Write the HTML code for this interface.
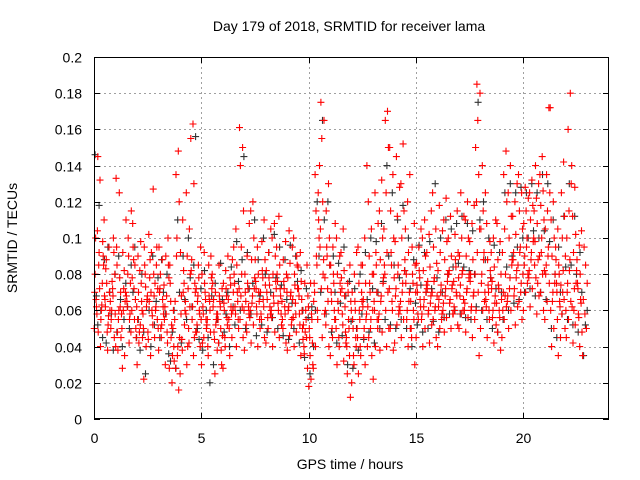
<!DOCTYPE html>
<html><head><meta charset="utf-8"><style>
html,body{margin:0;padding:0;background:#fff;}
svg{display:block;font-family:"Liberation Sans",sans-serif;}
</style></head><body>
<svg id="chart" width="640" height="480" viewBox="0 0 640 480" xmlns="http://www.w3.org/2000/svg">
<rect width="640" height="480" fill="#fff"/>
<g id="grid"></g>
<g id="black"></g>
<g id="red"></g>
<g id="axes"></g>
<text x="349" y="31" text-anchor="middle" font-size="14" fill="#000">Day 179 of 2018, SRMTID for receiver lama</text>
<text x="350" y="469" text-anchor="middle" font-size="14" fill="#000">GPS time / hours</text>
<text transform="translate(17,238) rotate(-90)" text-anchor="middle" font-size="14" fill="#000">SRMTID / TECUs</text>
</svg>
<script>
const xTicks=[0,5,10,15,20];
const yTicks=[0,0.02,0.04,0.06,0.08,0.1,0.12,0.14,0.16,0.18,0.2];
const yTickLabels=["0","0.02","0.04","0.06","0.08","0.1","0.12","0.14","0.16","0.18","0.2"];
const binWidth=0.25;
const redBins=[
[50,62,85,100,145,70,58,92,66,48,80,104],
[55,90,132,75,68,60,85,40,98,72,63,110],
[38,60,75,95,83,52,66,48,70,88,57,62],
[45,55,100,65,72,80,60,92,50,68,58,76],
[40,38,62,85,125,133,55,70,48,78,95,60],
[28,35,58,72,110,92,65,50,82,45,60,70],
[42,115,100,75,62,55,68,90,48,80,58,65],
[50,108,85,60,72,45,95,66,78,55,62,88],
[30,48,65,70,98,55,82,60,42,75,90,52],
[22,40,58,80,68,95,62,50,73,45,85,66],
[35,52,78,60,102,70,48,88,57,65,92,44],
[55,68,85,127,60,72,45,95,80,62,50,75],
[38,50,62,72,88,95,45,58,80,66,70,52],
[30,42,55,68,78,90,100,62,48,74,58,85],
[20,32,45,60,75,35,28,52,40,65,50,85],
[16,28,40,55,100,120,135,148,65,35,45,90],
[25,38,52,68,82,92,110,60,44,75,58,70],
[30,42,58,72,80,90,105,125,50,65,40,62],
[35,48,62,75,88,130,155,163,70,55,45,82],
[40,52,60,72,85,95,65,58,48,78,55,68],
[30,45,55,62,70,80,92,50,58,66,42,75],
[35,48,55,65,72,85,90,40,60,52,68,78],
[25,38,48,55,62,70,80,44,58,66,52,75],
[30,42,50,58,65,72,85,38,55,62,46,68],
[28,40,52,60,68,75,82,90,45,56,64,72],
[35,45,55,62,70,78,88,50,58,66,74,60],
[40,50,58,65,75,85,95,105,55,62,70,80],
[45,55,62,72,95,115,140,150,161,80,60,68],
[38,48,58,65,72,80,90,108,52,62,70,75],
[42,52,60,68,78,88,100,115,120,56,64,72],
[40,50,58,65,72,80,88,95,55,62,70,76],
[45,55,62,70,78,88,98,110,58,66,74,82],
[42,50,58,66,74,82,92,105,56,62,70,78],
[40,48,56,64,72,80,90,100,108,60,68,76],
[45,52,60,68,76,85,95,112,58,64,72,80],
[42,50,58,65,72,80,88,98,55,62,70,76],
[38,46,55,62,70,78,86,95,104,52,60,68],
[40,48,56,64,72,80,90,100,58,66,74,85],
[35,44,52,60,68,76,84,92,50,58,66,72],
[28,36,45,52,60,68,75,85,40,55,62,48],
[18,22,28,35,42,50,58,65,75,30,45,55],
[40,55,70,85,100,115,125,135,60,75,90,110],
[45,58,72,88,105,120,140,155,165,175,80,95],
[40,52,65,78,90,100,115,130,60,72,85,95],
[35,45,55,65,75,85,95,108,50,60,70,80],
[30,40,50,60,70,80,90,100,45,55,65,75],
[32,42,52,62,72,82,92,105,48,58,68,78],
[12,25,35,45,55,65,75,85,40,50,60,70],
[20,30,40,50,60,70,80,92,35,45,55,65],
[25,35,45,55,65,75,85,95,40,50,60,70],
[30,40,50,58,66,75,85,100,140,45,55,62],
[35,45,55,62,70,80,90,105,120,50,60,75],
[22,40,50,60,70,80,92,108,125,55,65,85],
[38,48,58,68,78,88,100,115,132,55,65,75],
[40,50,60,70,80,92,105,125,150,165,170,85],
[38,50,60,72,85,100,115,135,150,65,78,92],
[42,52,62,72,85,98,112,128,145,58,68,80],
[45,55,65,75,88,100,115,130,152,60,70,82],
[40,50,60,70,80,92,105,120,135,55,65,75],
[30,45,55,65,75,85,95,108,50,60,70,80],
[45,55,62,70,78,86,95,105,58,66,74,82],
[40,50,58,66,74,82,90,100,110,55,62,70],
[42,52,60,68,76,84,92,102,115,58,64,72],
[45,55,62,70,78,86,95,105,125,60,68,76],
[40,50,58,66,74,82,92,104,118,55,62,70],
[48,56,64,72,80,88,98,110,122,60,68,76],
[50,58,66,74,82,90,100,112,58,64,72,80],
[52,60,68,76,84,92,102,115,62,70,78,88],
[50,58,66,74,82,90,100,112,125,60,68,80],
[48,56,64,72,80,90,100,110,120,60,70,78],
[45,55,62,70,80,88,98,108,118,60,68,76],
[35,60,70,80,92,105,120,135,150,165,180,185],
[50,60,70,80,92,105,115,125,140,65,75,88],
[45,55,62,70,78,88,98,108,60,66,74,82],
[42,52,60,68,76,84,92,100,110,56,64,72],
[38,48,56,64,72,80,88,98,108,60,66,74],
[45,55,62,70,80,92,105,120,135,148,60,68],
[50,60,68,78,88,100,112,125,140,65,72,85],
[52,62,72,82,92,102,112,120,130,68,78,88],
[55,65,75,85,95,105,115,125,135,70,80,92],
[60,70,80,90,100,108,115,122,128,75,85,95],
[62,72,82,92,100,110,118,125,132,78,88,98],
[58,68,78,88,98,108,115,122,130,140,75,85],
[60,70,80,90,100,110,118,126,135,145,82,92],
[55,65,75,85,95,105,115,125,135,172,80,90],
[40,50,60,70,80,90,100,110,120,172,65,75],
[35,45,55,65,75,85,95,105,62,70,80,88],
[50,58,66,74,82,90,100,112,125,142,60,70],
[45,55,65,75,88,100,115,130,160,180,70,82],
[42,52,62,72,82,92,102,112,128,140,60,75],
[40,48,56,64,72,80,88,96,104,58,66,75],
[35,50,58,66,75,85,95]
];
const blackBins=[
[146,68,52,118],[60,88,45],[42,70,95],[58,80,38],[48,66,90],[40,75,55],[62,85,50],[70,45,95],
[55,80,38],[48,66,25],[60,90,40],[52,78,65],[45,70,88],[58,36,80],[32,60,48],[28,70,110],
[42,66,90],[55,78,100],[62,156,85],[50,72,44],[38,60,82],[45,68,20],[30,55,75],[42,66,86],
[48,70,58],[40,62,84],[52,76,98],[60,145,88],[50,72,92],[58,110,75],[46,68,88],[52,80,100],
[48,70,92],[56,78,102],[50,74,95],[46,66,88],[44,64,96],[50,76,90],[42,60,82],[34,56,72],
[25,40,62],[60,90,120],[70,110,165],[58,85,120],[48,70,90],[42,64,86],[46,68,95],[30,54,76],
[28,50,72],[38,58,80],[44,66,92],[48,72,100],[42,70,98],[50,76,108],[55,90,140],[52,85,125],
[50,78,110],[55,82,118],[50,72,100],[40,64,88],[52,74,96],[48,70,92],[50,72,98],[54,78,130],
[48,70,100],[56,80,110],[58,84,105],[60,86,108],[58,84,112],[56,82,108],[55,80,104],[62,110,175],
[60,88,120],[55,78,100],[50,72,96],[48,70,92],[55,84,125],[60,90,130],[64,95,125],[66,100,128],
[70,100,125],[72,104,130],[68,100,125],[70,104,135],[66,98,130],[50,80,110],[45,70,95],[58,84,112],
[55,85,130],[52,80,112],[48,70,92],[35,60,52]
];
const NS="http://www.w3.org/2000/svg";
const L=94,R=609,T=57,B=419;
function xs(t){return L+(t/24)*(R-L);}
function ys(v){return B-(v/0.2)*(B-T);}
const grid=document.getElementById('grid'),axes=document.getElementById('axes');
function line(g,x1,y1,x2,y2,stroke,dash){const l=document.createElementNS(NS,'line');l.setAttribute('x1',x1);l.setAttribute('y1',y1);l.setAttribute('x2',x2);l.setAttribute('y2',y2);l.setAttribute('stroke',stroke);l.setAttribute('stroke-width','1');if(dash)l.setAttribute('stroke-dasharray',dash);g.appendChild(l);return l;}
yTicks.forEach((v,i)=>{const y=Math.round(ys(v))+0.5;
 if(v>0&&v<0.2){const g=line(grid,L,y,R,y,'#a0a0a0','2,3');
 
 }
 const t1=line(axes,L,y,L+6,y,'#000');
 
 
 const t2=line(axes,R-6,y,R,y,'#000');
 
 
 const tx=document.createElementNS(NS,'text');tx.setAttribute('x',L-12);tx.setAttribute('y',y+5);tx.setAttribute('text-anchor','end');tx.setAttribute('font-size','14');tx.textContent=yTickLabels[i];
 
 
 axes.appendChild(tx);});
xTicks.forEach(v=>{const x=Math.round(xs(v))+0.5;
 if(v>0){const g=line(grid,x,T,x,B,'#a0a0a0','2,3');
 
 }
 const t1=line(axes,x,B,x,B-6,'#000');
 
 
 const t2=line(axes,x,T,x,T+6,'#000');
 
 
 const tx=document.createElementNS(NS,'text');tx.setAttribute('x',x);tx.setAttribute('y',B+24);tx.setAttribute('text-anchor','middle');tx.setAttribute('font-size','14');tx.textContent=String(v);
 
 
 axes.appendChild(tx);});
const frame=document.createElementNS(NS,'rect');frame.setAttribute('x',L+0.5);frame.setAttribute('y',T+0.5);frame.setAttribute('width',R-L-1);frame.setAttribute('height',B-T-1);frame.setAttribute('fill','none');frame.setAttribute('stroke','#000');


axes.appendChild(frame);
function draw(bins,gid,color,shift){const g=document.getElementById(gid);
 bins.forEach((vals,b)=>{const n=vals.length;vals.forEach((v,i)=>{
  const pos=((i*5+b*3)%n+0.5+shift)/n;const t=b*binWidth+pos*binWidth;
  const x=xs(t),y=ys(v/1000);
  const p=document.createElementNS(NS,'path');
  p.setAttribute('d',`M${(x-3.5).toFixed(1)} ${y.toFixed(1)}h7M${x.toFixed(1)} ${(y-3.5).toFixed(1)}v7`);
  p.setAttribute('stroke',color);p.setAttribute('stroke-width','1.1');p.setAttribute('fill','none');
  
  
  g.appendChild(p);});});}
draw(blackBins,'black','#333',0.3);
draw(redBins,'red','#ff0000',0);
</script>
</body></html>
